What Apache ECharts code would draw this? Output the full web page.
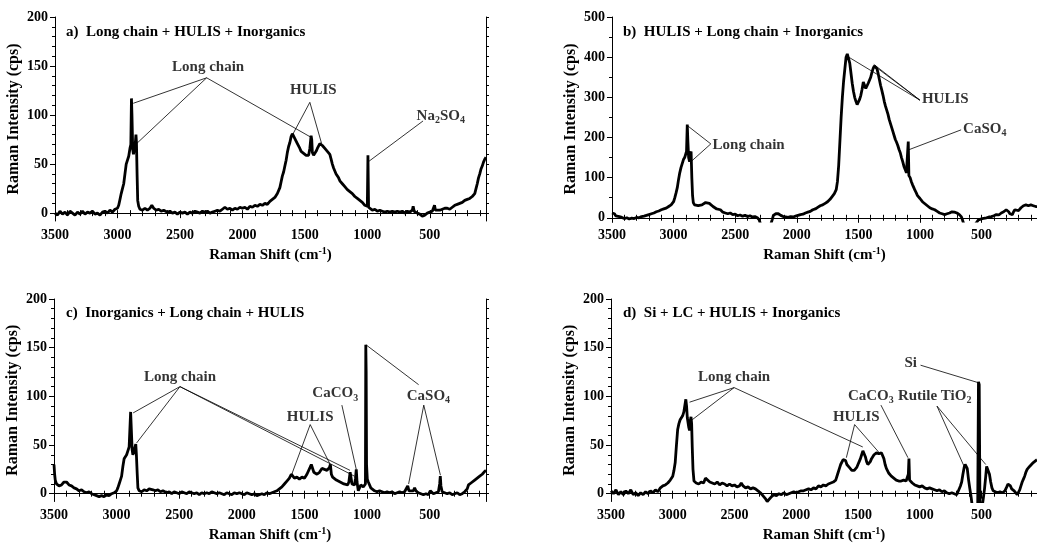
<!DOCTYPE html>
<html>
<head>
<meta charset="utf-8">
<script src="https://cdn.jsdelivr.net/npm/echarts@6/dist/echarts.min.js"></script>
<style>
  html, body { margin: 0; padding: 0; background: #fff; }
  #chart { width: 1037px; height: 544px; }
</style>
</head>
<body>
<div id="chart"></div>
<script>
// tick labels
var xMajor = [3500, 3000, 2500, 2000, 1500, 1000, 500]
var yMajorSmall = [0, 50, 100, 150, 200]
var yMajorBig = [0, 100, 200, 300, 400, 500]

// a) spectrum, shift (cm-1) and intensity (cps)
var shiftA = [3500, 3480, 3460, 3440, 3420, 3400, 3380, 3360, 3340, 3320, 3300, 3280, 3260, 3240, 3220, 3200, 3180, 3160, 3140, 3120, 3100, 3080, 3060, 3040, 3020, 3000, 2990, 2980, 2970, 2960, 2950, 2940, 2930, 2920, 2910, 2900, 2893, 2888, 2884, 2878, 2872, 2866, 2858, 2852, 2848, 2843, 2838, 2830, 2820, 2800, 2780, 2760, 2740, 2725, 2710, 2690, 2670, 2650, 2630, 2600, 2580, 2560, 2540, 2520, 2500, 2480, 2460, 2440, 2420, 2400, 2380, 2360, 2340, 2320, 2300, 2280, 2260, 2240, 2220, 2200, 2180, 2160, 2140, 2120, 2100, 2080, 2060, 2040, 2020, 2000, 1980, 1960, 1940, 1920, 1900, 1880, 1860, 1840, 1820, 1800, 1780, 1760, 1740, 1720, 1700, 1690, 1680, 1670, 1660, 1650, 1640, 1630, 1620, 1610, 1600, 1590, 1580, 1570, 1560, 1550, 1540, 1530, 1520, 1510, 1500, 1490, 1480, 1470, 1460, 1450, 1445, 1440, 1430, 1420, 1410, 1400, 1390, 1380, 1370, 1360, 1350, 1340, 1330, 1320, 1310, 1300, 1290, 1280, 1270, 1260, 1250, 1240, 1230, 1220, 1210, 1200, 1190, 1180, 1170, 1160, 1150, 1140, 1130, 1120, 1110, 1100, 1080, 1060, 1040, 1020, 1000, 995, 990, 980, 960, 940, 920, 900, 880, 860, 840, 820, 800, 780, 760, 740, 720, 700, 680, 660, 640, 633, 625, 600, 580, 560, 540, 520, 500, 480, 470, 462, 455, 440, 420, 400, 380, 360, 340, 320, 300, 280, 260, 240, 220, 200, 180, 160, 150, 140, 130, 120, 110, 100, 90, 80, 70, 60, 50]
var intensityA = [0, -2, 2, -1, 1, -2, 2, 0, -2, 1, -1, 2, -1, 1, 0, 2, -1, 0, -2, 1, 2, 0, 3, 1, 4, 5, 8, 14, 20, 25, 30, 40, 50, 52, 58, 66, 70, 117, 100, 65, 60, 62, 70, 80, 72, 40, 13, 7, 4, 3, 5, 3, 5, 8, 5, 3, 4, 2, 3, 1, 2, 0, 1, -1, 1, 0, 1, -1, 1, 0, 2, 1, 0, 2, 1, 2, 0, 1, 2, 3, 2, 4, 6, 4, 5, 3, 5, 4, 6, 5, 6, 4, 7, 6, 8, 7, 9, 8, 10, 9, 12, 14, 16, 20, 26, 32, 38, 42, 48, 54, 62, 68, 72, 78, 81, 80, 76, 74, 71, 70, 66, 63, 64, 61, 62, 59, 61, 59, 66, 79, 75, 62, 59, 60, 63, 66, 68, 71, 70, 69, 68, 66, 64, 63, 62, 60, 55, 50, 46, 44, 40, 38, 36, 33, 32, 30, 28, 27, 25, 24, 23, 22, 21, 20, 19, 17, 15, 13, 11, 8, 7, 59, 6, 5, 3, 4, 2, 3, 2, 1, 2, 1, 2, 1, 2, 1, 2, 0, 2, 1, 3, 7, 2, 0, -1, -3, -2, 0, 1, 2, 4, 8, 3, 2, 3, 4, 5, 5, 4, 6, 8, 9, 10, 11, 13, 14, 15, 17, 17, 20, 25, 30, 36, 40, 45, 48, 52, 55, 57]

// b) spectrum
var shiftB = [3500, 3490, 3480, 3470, 3460, 3440, 3420, 3400, 3380, 3360, 3340, 3320, 3300, 3280, 3260, 3240, 3220, 3200, 3180, 3160, 3140, 3120, 3100, 3080, 3060, 3040, 3020, 3000, 2990, 2980, 2970, 2960, 2950, 2940, 2930, 2920, 2910, 2900, 2895, 2889, 2884, 2878, 2870, 2864, 2858, 2852, 2846, 2840, 2830, 2815, 2800, 2785, 2770, 2755, 2740, 2725, 2710, 2695, 2680, 2665, 2650, 2635, 2620, 2600, 2580, 2560, 2540, 2520, 2500, 2480, 2460, 2440, 2420, 2400, 2380, 2360, 2340, 2320, 2305, 2295, 2250, 2210, 2200, 2190, 2170, 2150, 2130, 2110, 2090, 2070, 2050, 2030, 2010, 1990, 1970, 1950, 1930, 1910, 1890, 1870, 1850, 1830, 1810, 1790, 1770, 1750, 1730, 1710, 1695, 1680, 1670, 1660, 1650, 1640, 1630, 1620, 1610, 1600, 1590, 1580, 1570, 1560, 1550, 1540, 1530, 1520, 1510, 1500, 1490, 1480, 1470, 1460, 1450, 1440, 1430, 1420, 1410, 1400, 1390, 1380, 1370, 1360, 1350, 1340, 1330, 1320, 1310, 1300, 1290, 1280, 1270, 1260, 1250, 1240, 1230, 1220, 1210, 1200, 1190, 1180, 1170, 1160, 1150, 1140, 1130, 1120, 1110, 1100, 1095, 1090, 1080, 1070, 1060, 1050, 1040, 1030, 1020, 1000, 980, 960, 940, 920, 900, 880, 860, 840, 820, 800, 780, 760, 740, 720, 700, 680, 665, 655, 640, 560, 525, 510, 495, 480, 460, 440, 420, 400, 380, 360, 340, 320, 300, 290, 280, 270, 260, 250, 240, 230, 220, 200, 180, 160, 140, 120, 100, 80, 60, 50]
var intensityB = [12, 8, 10, 5, 6, 3, 1, -2, 0, -3, -1, -2, 1, 0, 3, 4, 6, 8, 10, 12, 15, 17, 20, 22, 24, 28, 32, 40, 50, 62, 75, 95, 112, 125, 135, 145, 150, 160, 165, 232, 190, 150, 140, 160, 165, 100, 55, 38, 32, 28, 30, 28, 32, 30, 38, 40, 36, 34, 28, 26, 22, 18, 20, 14, 12, 10, 12, 8, 9, 5, 7, 4, 6, 3, 5, 2, 3, 0, -5, -15, -25, -15, -5, 6, 10, 10, 6, 3, 2, 1, 3, 2, 4, 6, 8, 9, 12, 14, 16, 20, 22, 26, 30, 32, 36, 40, 46, 54, 60, 70, 90, 130, 190, 250, 300, 340, 370, 400, 408, 405, 385, 360, 335, 315, 300, 290, 282, 285, 295, 305, 320, 338, 330, 322, 325, 335, 338, 350, 362, 372, 378, 380, 372, 360, 345, 330, 318, 305, 290, 278, 268, 258, 245, 235, 225, 215, 205, 195, 188, 180, 170, 162, 150, 140, 128, 120, 112, 108, 190, 105, 100, 90, 82, 75, 68, 62, 55, 48, 40, 35, 30, 25, 22, 20, 16, 12, 10, 8, 10, 12, 15, 14, 12, 8, 3, -5, -20, -20, -5, -4, -2, -1, 0, 2, 3, 5, 8, 7, 12, 15, 20, 18, 15, 10, 12, 8, 15, 20, 22, 18, 25, 30, 32, 30, 32, 30, 28, 28]

// c) spectrum
var shiftC = [3500, 3495, 3490, 3480, 3470, 3460, 3450, 3440, 3430, 3420, 3410, 3400, 3390, 3380, 3370, 3360, 3340, 3320, 3300, 3280, 3260, 3240, 3220, 3200, 3180, 3160, 3140, 3120, 3100, 3080, 3060, 3040, 3020, 3000, 2990, 2980, 2970, 2960, 2950, 2940, 2930, 2920, 2910, 2900, 2893, 2888, 2882, 2876, 2870, 2864, 2858, 2852, 2847, 2842, 2836, 2830, 2820, 2800, 2780, 2760, 2740, 2725, 2710, 2690, 2670, 2650, 2630, 2600, 2580, 2560, 2540, 2520, 2500, 2480, 2460, 2440, 2420, 2400, 2380, 2360, 2340, 2320, 2300, 2280, 2260, 2240, 2220, 2200, 2180, 2160, 2140, 2120, 2100, 2080, 2060, 2040, 2020, 2000, 1980, 1960, 1940, 1920, 1900, 1880, 1860, 1840, 1820, 1800, 1780, 1760, 1740, 1720, 1700, 1680, 1660, 1640, 1620, 1605, 1595, 1580, 1560, 1540, 1520, 1500, 1480, 1465, 1455, 1445, 1435, 1425, 1415, 1400, 1390, 1380, 1370, 1360, 1350, 1340, 1330, 1320, 1310, 1300, 1293, 1285, 1275, 1260, 1245, 1230, 1215, 1200, 1185, 1170, 1155, 1145, 1135, 1128, 1120, 1110, 1100, 1092, 1086, 1080, 1070, 1060, 1050, 1040, 1030, 1020, 1013, 1010, 1007, 1004, 998, 990, 980, 970, 960, 940, 920, 900, 880, 860, 840, 820, 800, 780, 760, 740, 720, 700, 685, 675, 665, 650, 630, 620, 610, 590, 570, 550, 530, 510, 495, 485, 470, 450, 430, 420, 415, 410, 400, 380, 360, 340, 320, 300, 280, 260, 240, 220, 200, 190, 180, 170, 160, 140, 120, 100, 80, 60, 50]
var intensityC = [30, 20, 14, 10, 12, 8, 10, 9, 10, 12, 13, 12, 10, 9, 7, 8, 6, 5, 3, 4, 2, 1, 2, 0, -1, -2, -3, -2, -3, -1, -2, 0, 1, 3, 6, 10, 14, 18, 28, 36, 38, 40, 44, 48, 50, 84, 82, 45, 40, 42, 45, 44, 51, 40, 22, 6, 3, 2, 4, 3, 5, 6, 4, 3, 4, 2, 3, 1, 2, 0, 2, 1, 0, 2, 1, 0, 2, 1, 0, 1, -1, 1, 0, 1, 0, 2, 1, 0, 1, 0, -1, 1, 0, -1, 1, 0, 1, 0, -1, 1, 0, -1, 0, -2, -1, 0, -1, 1, 0, 1, 2, 3, 5, 7, 10, 13, 16, 20, 18, 16, 17, 15, 17, 16, 20, 22, 27, 30, 28, 22, 22, 20, 21, 22, 24, 26, 27, 25, 26, 24, 25, 27, 30, 20, 17, 15, 14, 12, 12, 11, 10, 10, 9, 12, 22, 20, 10, 8, 9, 16, 25, 12, 3, 6, 9, 8, 7, 6, 10, 153, 125, 30, 15, 12, 10, 6, 4, 3, 2, 3, 2, 1, 2, 1, 2, 0, 1, 2, 1, 2, 3, 8, 3, 1, 3, 6, 3, 1, 0, -1, 0, -1, 3, 1, 0, 1, 2, 10, 18, 8, 2, 1, 0, 1, -1, 0, 1, -1, 0, 2, 5, 9, 8, 11, 12, 14, 16, 18, 20, 23, 24]

// d) spectrum
var shiftD = [3500, 3480, 3460, 3440, 3420, 3400, 3380, 3360, 3340, 3320, 3300, 3280, 3260, 3240, 3220, 3200, 3180, 3160, 3140, 3120, 3100, 3080, 3060, 3040, 3020, 3000, 2990, 2980, 2970, 2960, 2950, 2940, 2930, 2920, 2910, 2900, 2894, 2888, 2882, 2876, 2870, 2864, 2858, 2852, 2847, 2842, 2836, 2828, 2810, 2790, 2770, 2750, 2735, 2720, 2700, 2680, 2660, 2640, 2620, 2600, 2580, 2560, 2540, 2520, 2500, 2480, 2460, 2445, 2430, 2410, 2390, 2370, 2350, 2330, 2310, 2290, 2270, 2250, 2235, 2220, 2200, 2180, 2160, 2140, 2120, 2100, 2080, 2060, 2040, 2020, 2000, 1980, 1960, 1940, 1920, 1900, 1880, 1860, 1840, 1820, 1800, 1780, 1760, 1740, 1720, 1700, 1680, 1665, 1650, 1640, 1630, 1620, 1610, 1600, 1590, 1580, 1570, 1560, 1550, 1540, 1530, 1520, 1510, 1500, 1490, 1480, 1470, 1460, 1450, 1440, 1430, 1420, 1410, 1400, 1390, 1380, 1370, 1360, 1350, 1340, 1330, 1320, 1310, 1300, 1290, 1280, 1270, 1260, 1250, 1240, 1230, 1220, 1210, 1200, 1190, 1180, 1170, 1160, 1150, 1140, 1130, 1120, 1110, 1100, 1092, 1087, 1082, 1070, 1060, 1050, 1040, 1030, 1020, 1000, 980, 960, 940, 920, 900, 880, 860, 840, 820, 800, 780, 760, 740, 720, 700, 690, 680, 670, 660, 650, 640, 632, 625, 615, 605, 595, 585, 575, 550, 530, 524, 518, 512, 495, 485, 475, 465, 458, 450, 445, 435, 425, 415, 405, 390, 370, 350, 330, 310, 295, 285, 275, 265, 255, 245, 235, 220, 210, 200, 190, 180, 170, 160, 150, 140, 130, 120, 110, 100, 80, 60, 50]
var intensityD = [3, 0, 4, -1, 2, -1, 3, 0, 4, -1, 1, -2, 1, -1, 2, 0, 3, 1, 4, 2, 6, 8, 9, 11, 14, 18, 24, 32, 50, 66, 72, 76, 78, 80, 84, 85, 97, 90, 78, 76, 68, 65, 75, 79, 72, 48, 25, 13, 11, 10, 12, 11, 16, 14, 12, 11, 10, 12, 9, 11, 10, 8, 10, 8, 9, 7, 8, 11, 8, 6, 7, 5, 6, 5, 3, 1, -2, -5, -8, -6, -3, -1, -2, 0, -1, 1, -1, 0, 1, 2, 1, 2, 3, 3, 4, 5, 4, 6, 5, 8, 7, 9, 8, 10, 11, 12, 14, 20, 26, 30, 32, 35, 36, 34, 30, 28, 27, 25, 24, 23, 24, 25, 27, 30, 33, 36, 40, 44, 42, 38, 33, 30, 31, 33, 36, 38, 40, 41, 42, 40, 41, 43, 42, 44, 36, 30, 26, 24, 21, 19, 18, 17, 16, 15, 14, 14, 13, 12, 13, 12, 14, 12, 13, 12, 20, 36, 14, 12, 11, 10, 9, 10, 8, 7, 8, 6, 5, 6, 5, 4, 3, 4, 2, 3, 1, 0, 1, 0, -1, 2, 4, 8, 12, 20, 27, 30, 29, 26, 15, 6, -2, -12, -14, -12, 115, 112, -12, -14, -5, 5, 18, 28, 30, 29, 20, 12, 6, 3, 2, 1, 2, 1, 3, 7, 10, 9, 8, 5, 4, 3, 1, -1, 0, 4, 8, 12, 15, 18, 22, 25, 27, 28, 30, 32, 34, 35]

// panel headings
var titles = ['a)  Long chain + HULIS + Inorganics', 'b)  HULIS + Long chain + Inorganics',
  'c)  Inorganics + Long chain + HULIS', 'd)  Si + LC + HULIS + Inorganics']

// annotation text: [label, shift, intensity]
var notesA = [['{t|Long chain}', 2274, 149], ['{t|HULIS}', 1433, 125], ['{t|Na}{s|2}{t|SO}{s|4}', 412, 99]]
var notesB = [['{t|Long chain}', 2391, 182], ['{t|HULIS}', 795, 296], ['{t|CaSO}{s|4}', 474, 222]]
var notesC = [['{t|Long chain}', 2494, 120], ['{t|HULIS}', 1454, 79], ['{t|CaCO}{s|3}', 1254, 103], ['{t|CaSO}{s|4}', 510, 100]]
var notesD = [['{t|Long chain}', 2503, 120], ['{t|HULIS}', 1514, 79], ['{t|CaCO}{s|3}', 1396, 100],
  ['{t|Rutile TiO}{s|2}', 879, 100], ['{t|Si}', 1073, 134]]

// leader lines: [shift1, int1, shift2, int2]
var leadersA = [[2286, 138, 2874, 112], [2286, 138, 2846, 71], [2286, 138, 1446, 77],
  [1460, 113, 1594, 81], [1460, 113, 1366, 71], [554, 94, 986, 53]]
var leadersB = [[2698, 184, 2886, 229], [2698, 184, 2858, 140], [1001, 293, 1589, 402],
  [1001, 293, 1375, 382], [1001, 293, 1352, 374], [666, 219, 1094, 169]]
var leadersC = [[2494, 110, 2868, 83], [2494, 110, 2841, 52], [2494, 110, 1136, 24], [2494, 110, 1100, 18],
  [1454, 71, 1601, 20], [1454, 71, 1294, 30], [1201, 91, 1086, 25],
  [547, 91, 668, 10], [547, 91, 414, 19], [588, 112, 1009, 153]]
var leadersD = [[2503, 109, 2864, 94], [2503, 109, 2842, 76], [2503, 109, 1461, 48],
  [1527, 71, 1594, 37], [1527, 71, 1327, 42], [1314, 91, 1095, 37],
  [860, 90, 640, 28], [860, 90, 465, 30], [993, 132, 524, 114]]

var FONT = 'Liberation Serif'
var BOLD = { fontFamily: FONT, fontWeight: 'bold', color: '#000' }

function range(a, b, step) {
  var out = []
  for (var v = a; v <= b; v += step) out.push(v)
  return out
}
function plain(v) { return String(v) }
var xMinor = range(100, 3500, 100)

var panels = [
  { grid: { left: 55, top: 17, width: 431, height: 204 }, yMax: 200, yMajor: yMajorSmall, yStep: 10,
    shift: shiftA, inten: intensityA, notes: notesA, leaders: leadersA, tl: [66, 25] },
  { grid: { left: 612, top: 17, width: 430, height: 204 }, yMax: 500, yMajor: yMajorBig, yStep: 50,
    shift: shiftB, inten: intensityB, notes: notesB, leaders: leadersB, tl: [623, 25] },
  { grid: { left: 54, top: 299, width: 432, height: 203 }, yMax: 200, yMajor: yMajorSmall, yStep: 10,
    shift: shiftC, inten: intensityC, notes: notesC, leaders: leadersC, tl: [66, 306] },
  { grid: { left: 611, top: 299, width: 430, height: 203 }, yMax: 200, yMajor: yMajorSmall, yStep: 10,
    shift: shiftD, inten: intensityD, notes: notesD, leaders: leadersD, tl: [623, 306] }
]

var option = { animation: false, backgroundColor: '#fff', grid: [], xAxis: [], yAxis: [], series: [], title: [] }
var axisLine = { show: true, lineStyle: { color: '#000', width: 1 } }

panels.forEach(function(p, i) {
  option.grid.push(p.grid)
  option.title.push({ text: titles[i], left: p.tl[0], top: p.tl[1], padding: 0,
    textStyle: { fontFamily: FONT, fontWeight: 'bold', fontSize: 15, color: '#000' } })
  var yMinor = range(0, p.yMax, p.yStep)
  var xBase = option.xAxis.length
  var yBase = option.yAxis.length
  // bottom major, bottom minor, top
  option.xAxis.push({
    gridIndex: i, type: 'value', min: 50, max: 3500, inverse: true, position: 'bottom',
    axisLine: axisLine, splitLine: { show: false },
    axisTick: { customValues: xMajor, length: 5, lineStyle: { color: '#000' } },
    axisLabel: Object.assign({ customValues: xMajor, formatter: plain, fontSize: 14, margin: 7 }, BOLD),
    name: '{n|Raman Shift (cm}{p|-1}{n|)}', nameLocation: 'middle', nameGap: 25,
    nameTextStyle: { rich: { n: Object.assign({ fontSize: 15 }, BOLD), p: Object.assign({ fontSize: 10, padding: [0, 0, 8, 0] }, BOLD) } }
  })
  option.xAxis.push({
    gridIndex: i, type: 'value', min: 50, max: 3500, inverse: true, position: 'bottom',
    axisLine: { show: false }, splitLine: { show: false }, axisLabel: { show: false },
    axisTick: { customValues: xMinor, length: 3, lineStyle: { color: '#000' } }
  })
  option.xAxis.push({
    gridIndex: i, type: 'value', min: 50, max: 3500, inverse: true, position: 'top',
    axisLine: axisLine, splitLine: { show: false }, axisLabel: { show: false },
    axisTick: { customValues: xMinor, length: 3, lineStyle: { color: '#000' } }
  })
  option.yAxis.push({
    gridIndex: i, type: 'value', min: -8, max: p.yMax, position: 'left',
    axisLine: axisLine, splitLine: { show: false },
    axisTick: { customValues: p.yMajor, length: 5, lineStyle: { color: '#000' } },
    axisLabel: Object.assign({ customValues: p.yMajor, formatter: plain, fontSize: 14, margin: 7 }, BOLD),
    name: 'Raman Intensity (cps)', nameLocation: 'middle', nameGap: 33,
    nameTextStyle: Object.assign({ fontSize: 16 }, BOLD)
  })
  option.yAxis.push({
    gridIndex: i, type: 'value', min: -8, max: p.yMax, position: 'left',
    axisLine: { show: false }, splitLine: { show: false }, axisLabel: { show: false },
    axisTick: { customValues: yMinor, length: 3, lineStyle: { color: '#000' } }
  })
  option.yAxis.push({
    gridIndex: i, type: 'value', min: -8, max: p.yMax, position: 'right',
    axisLine: axisLine, splitLine: { show: false }, axisLabel: { show: false },
    axisTick: { customValues: yMinor, length: 3, lineStyle: { color: '#000' } }
  })

  var pts = p.shift.map(function(v, k) { return [v, p.inten[k]] })
  option.series.push({
    type: 'line', xAxisIndex: xBase, yAxisIndex: yBase, data: pts,
    showSymbol: false, silent: true, clip: true,
    lineStyle: { color: '#000', width: 2.8 },
    markLine: {
      silent: true, symbol: ['none', 'none'], label: { show: false },
      lineStyle: { color: '#000', width: 0.8, type: 'solid' },
      data: p.leaders.map(function(l) { return [{ coord: [l[0], l[1]] }, { coord: [l[2], l[3]] }] })
    }
  })
  option.series.push({
    type: 'scatter', xAxisIndex: xBase, yAxisIndex: yBase, symbolSize: 0, silent: true,
    data: p.notes.map(function(n) { return { value: [n[1], n[2]], label: { formatter: n[0] } } }),
    label: {
      show: true, position: 'inside',
      rich: {
        t: Object.assign({ fontSize: 15 }, BOLD),
        s: Object.assign({ fontSize: 10, padding: [9, 0, 0, 0] }, BOLD)
      }
    }
  })
})

var chart = echarts.init(document.getElementById('chart'))
chart.setOption(option)
</script>
</body>
</html>
